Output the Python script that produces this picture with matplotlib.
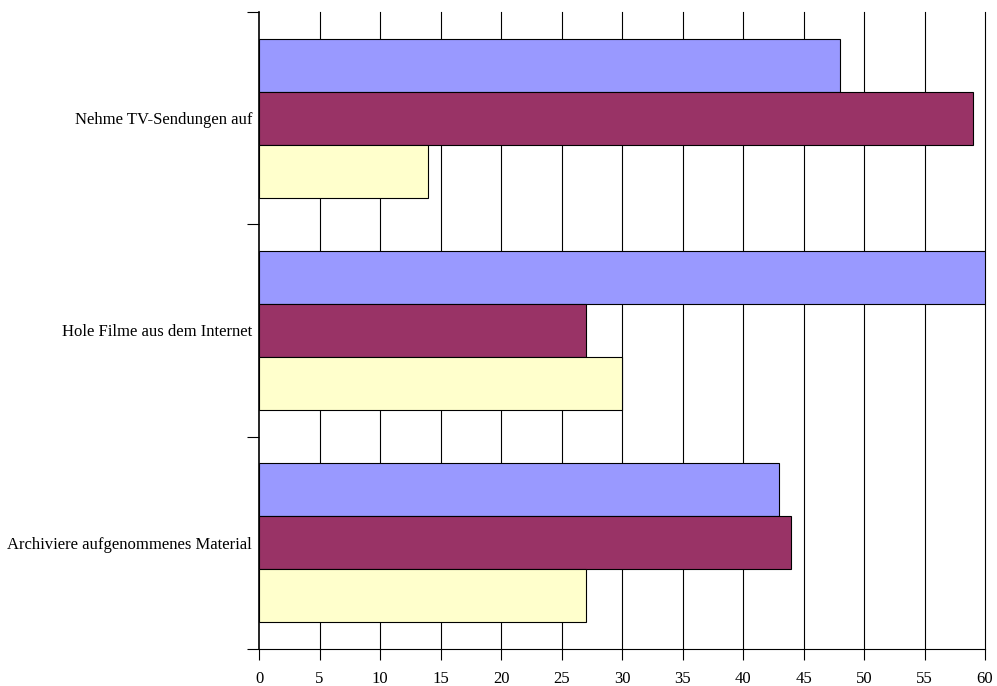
import matplotlib
matplotlib.use("Agg")
import matplotlib.pyplot as plt
import numpy as np

categories = ["Archiviere aufgenommenes Material", "Hole Filme aus dem Internet", "Nehme TV-Sendungen auf"]
series_blue = [43, 60, 48]
series_purple = [44, 27, 59]
series_yellow = [27, 30, 14]
xticks = list(range(0, 61, 5))

plt.rcParams['font.family'] = ['Liberation Serif', 'DejaVu Serif']

fig = plt.figure(figsize=(9.97, 6.86), dpi=100)
ax = fig.add_axes([259/997, 1-649/686, (985-259)/997, (649-12)/686])

y = np.arange(len(categories))
h = 0.25
ax.barh(y + h, series_blue, height=h, color="#9999FF", edgecolor="black", linewidth=0.8, zorder=3)
ax.barh(y, series_purple, height=h, color="#993366", edgecolor="black", linewidth=0.8, zorder=3)
ax.barh(y - h, series_yellow, height=h, color="#FFFFCC", edgecolor="black", linewidth=0.8, zorder=3)

ax.set_xlim(0, 60)
ax.set_ylim(-0.5, len(categories) - 0.5)
ax.set_xticks(xticks)
ax.set_xticklabels([str(t) for t in xticks], fontsize=12)
ax.tick_params(axis='x', length=8, width=0.8, pad=8)

ax.set_yticks(np.arange(-0.5, len(categories), 1.0))
ax.set_yticklabels([])
ax.tick_params(axis='y', which='major', length=8.5, width=0.8)
ax.set_yticks(y, minor=True)
ax.set_yticklabels(categories, minor=True, fontsize=12)
ax.tick_params(axis='y', which='minor', length=0, pad=5)

for t in xticks[1:]:
    ax.axvline(t, color="black", linewidth=0.8, zorder=1, clip_on=False)

ax.spines['top'].set_visible(False)
ax.spines['right'].set_visible(False)
ax.spines['left'].set_linewidth(1.2)
ax.spines['bottom'].set_linewidth(0.8)

fig.savefig("out.png", dpi=100)
